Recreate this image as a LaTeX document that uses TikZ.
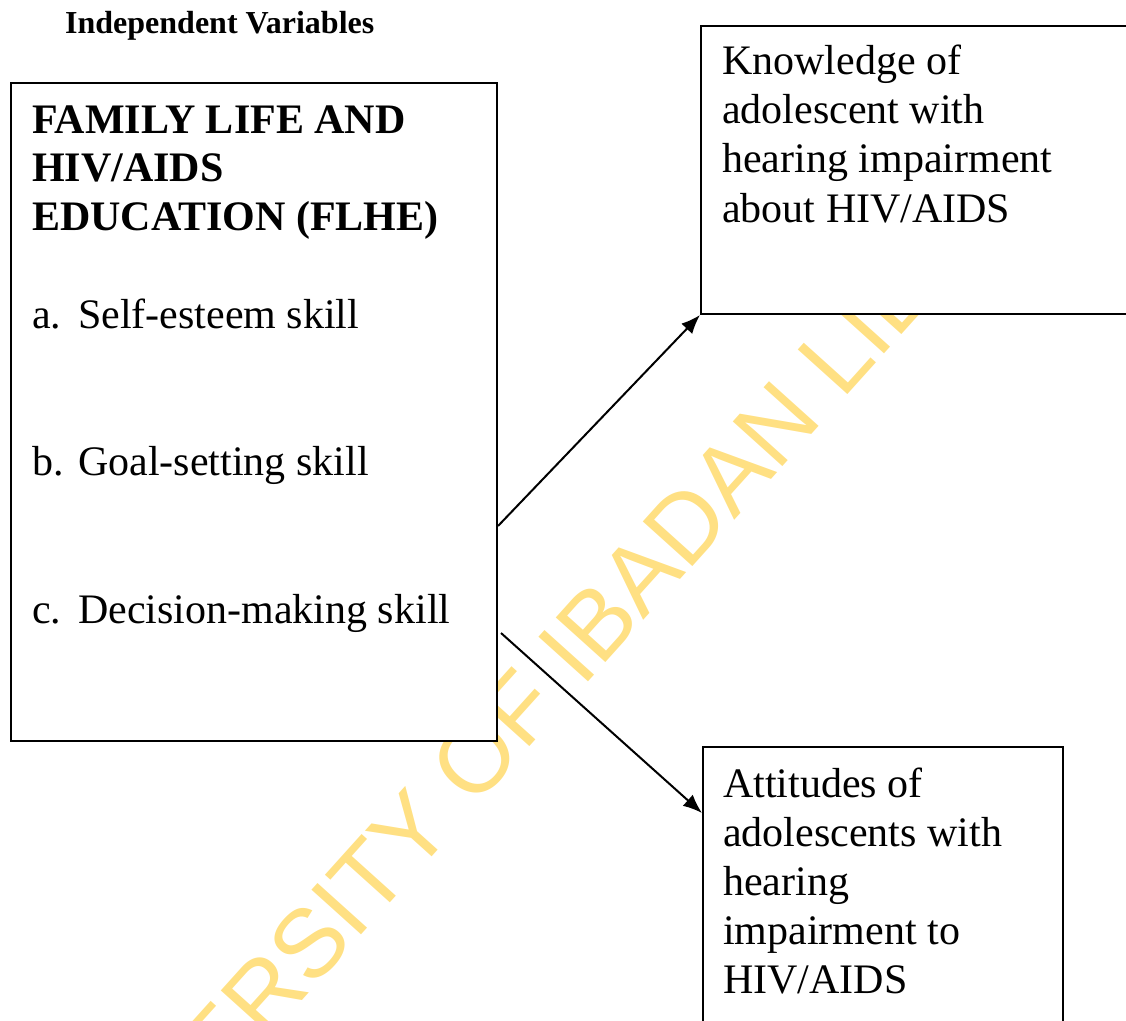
\documentclass[tikz,border=0pt]{standalone}
\usepackage{fontspec}
\setmainfont{Liberation Serif}
\newfontfamily\markfont{Liberation Sans}
\usetikzlibrary{arrows.meta}
\definecolor{markyellow}{HTML}{FFE083}

\begin{document}
\begin{tikzpicture}[x=1pt,y=-1pt,
    box/.style={draw,fill=white,line width=2pt,anchor=north west,inner sep=0pt},
    body/.style={font=\fontsize{42}{49}\selectfont,align=left,anchor=base west,inner sep=0pt},
    link/.style={line width=2pt,-{Latex[length=19pt,width=15pt]}}]
            % Page
            \path[use as bounding box] (0,0) rectangle (1126,1020);
            \clip (0,0) rectangle (1126,1020);
            % Library stamp, behind the boxes
            \node[text=markyellow,inner sep=0pt,rotate=48,
                font=\markfont\fontsize{97}{97}\selectfont] (stamp) at (568,655)
                {UNIVERSITY OF IBADAN LIBRARY};
            \node[anchor=base west,inner sep=0pt,font=\bfseries\fontsize{32}{38}\selectfont]
                (head) at (65,33) {Independent Variables};
            % Independent variables (multi-line nodes sit on their last line)
            \node[box,minimum width=486pt,minimum height=658pt] (flhe) at (10,82) {};
            \node[body,font=\bfseries\fontsize{42}{48.5}\selectfont] (title) at (32,230)
                {FAMILY LIFE AND\\HIV/AIDS\\EDUCATION (FLHE)};
            \node[body] (skilla) at (32,328) {\makebox[46pt][l]{a.}Self-esteem skill};
            \node[body] (skillb) at (32,475) {\makebox[46pt][l]{b.}Goal-setting skill};
            \node[body] (skillc) at (32,623) {\makebox[46pt][l]{c.}Decision-making skill};
            % Dependent variables
            \node[box,minimum width=500pt,minimum height=288pt] (know) at (700,25) {};
            \node[body,font=\fontsize{42}{49.3}\selectfont] (knowtext) at (722,222)
                {Knowledge of\\adolescent with\\hearing impairment\\about HIV/AIDS};
            \node[box,minimum width=360pt,minimum height=400pt] (attit) at (702,746) {};
            \node[body] (attittext) at (723,993)
                {Attitudes of\\adolescents with\\hearing\\impairment to\\HIV/AIDS};
            % Links
            \draw[link] ([yshift=-114pt]flhe.east) -- (know.south west);
            \draw[link] ([xshift=3pt,yshift=-221pt]flhe.east) -- ([yshift=-67pt]attit.north west);
\end{tikzpicture}
\end{document}
